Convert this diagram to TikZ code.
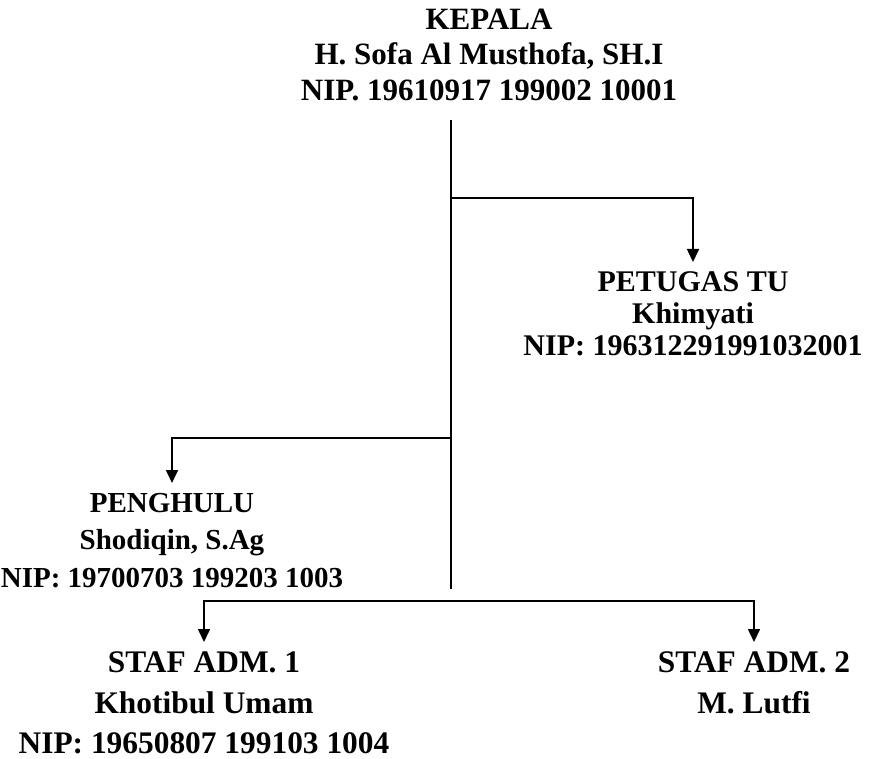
\documentclass[tikz,border=0pt]{standalone}
\usepackage{fontspec}
\setmainfont{Liberation Serif}
\usetikzlibrary{arrows.meta, positioning}

\newcommand{\unitfont}[2]{\bfseries\fontsize{#1}{#2}\selectfont}

\begin{document}
\begin{tikzpicture}[
    x=0.5pt, y=-0.5pt,
    unit/.style={align=center, inner sep=0pt, outer ysep=5pt},
    arrow/.style={-{Triangle[length=6.5pt, width=6pt]}},
    line width=0.8pt
]
\useasboundingbox (0,0) rectangle (878,759);

\node[unit, anchor=north, font=\unitfont{15.5}{17.75}] (kepala) at (489,-1) {KEPALA\\H. Sofa Al Musthofa, SH.I\\NIP. 19610917 199002 10001};
\node[unit, anchor=north, font=\unitfont{15}{16}] (tu) at (693,262) {PETUGAS TU\\Khimyati\\NIP: 196312291991032001};
\node[unit, anchor=north, font=\unitfont{14.5}{18.75}] (penghulu) at (172,483) {PENGHULU\\Shodiqin, S.Ag\\NIP: 19700703 199203 1003};
\node[unit, anchor=north, font=\unitfont{15.7}{20.25}] (adm1) at (204,642) {STAF ADM. 1\\Khotibul Umam\\NIP: 19650807 199103 1004};
\node[unit, anchor=north, font=\unitfont{15.7}{20.25}] (adm2) at (754,642) {STAF ADM. 2\\M. Lutfi};

\coordinate (trunk top) at (451,120);
\coordinate (trunk end) at (451,589);
\coordinate (to tu) at (451,198);
\coordinate (to penghulu) at (451,438);
\coordinate (bar) at (451,601);

\draw (trunk top) -- (trunk end);
\draw[arrow] (to tu) -| (tu.north);
\draw[arrow] (to penghulu) -| (penghulu.north);
\draw[arrow] (bar) -| (adm1.north);
\draw[arrow] (bar) -| (adm2.north);
\end{tikzpicture}
\end{document}
